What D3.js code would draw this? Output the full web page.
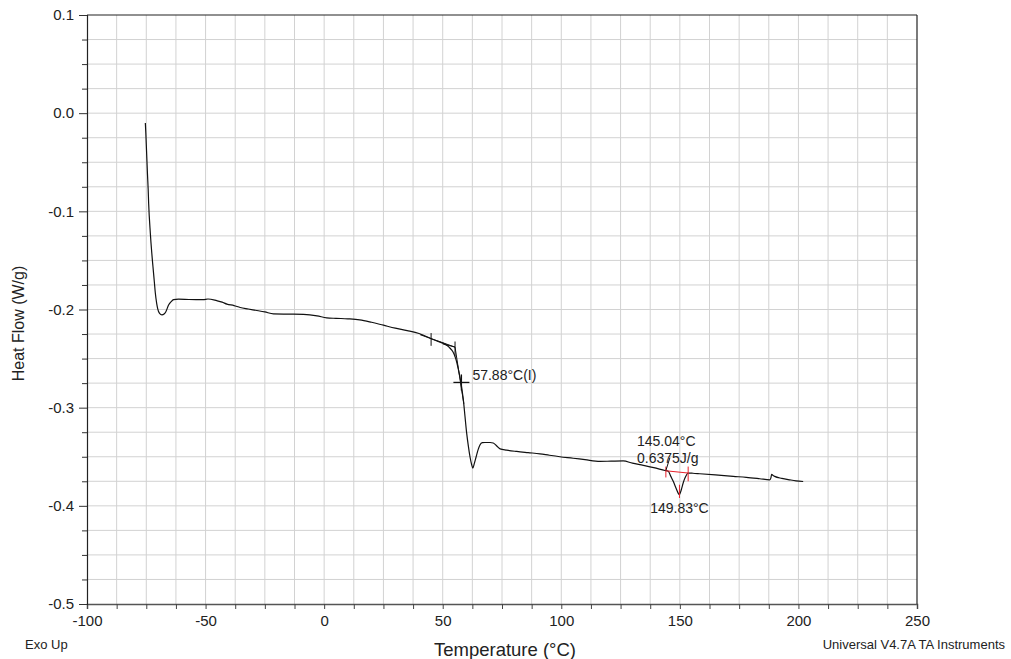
<!DOCTYPE html>
<html>
<head>
<meta charset="utf-8">
<script src="https://cdn.jsdelivr.net/npm/d3@7/dist/d3.min.js"></script>
<style>
  html, body { margin: 0; padding: 0; background: #fff; }
  svg { display: block; font-family: "Liberation Sans", Arial, sans-serif; }
</style>
</head>
<body>
<svg id="chart" width="1011" height="659"></svg>
<script>
// ---- Data ----
const temperature = [
  -75.4, -75.2, -74.9, -74.5, -74.2, -74.0, -73.3, -72.7, -72.2, -71.6, -71.2, -70.6, -70.2, -69.4, -68.4,
  -67.5, -66.8, -65.6, -64.5, -63.5, -61.4, -57, -51, -49, -45.3, -43, -41, -38, -35.4, -32, -28.4, -25,
  -21.4, -15, -8.7, -3, 1.1, 5, 10, 15, 20, 25, 30, 35, 40, 45.4, 48, 50.3, 52, 53.1, 54.3, 55.2, 56, 56.6,
  57.2, 57.7, 58.2, 58.7, 59.4, 60.1, 60.8, 61.5, 62.1, 62.7, 63.3, 64.1, 64.9, 65.7, 66.7, 67.8, 70, 71.3,
  72.8, 74.2, 77, 81.2, 86, 91, 95, 99.4, 105, 110, 116.3, 121, 126.1, 130, 134.6, 139, 143.7, 145.1, 146.2,
  147.2, 148.4, 149.4, 149.8, 150.3, 150.8, 151.5, 152.1, 153.5, 155.5, 158.4, 165, 172.5, 178, 183.7, 187.9,
  188.4, 188.7, 189.3, 190, 193, 196.4, 199, 202
];
const heatFlow = [
  -0.010, -0.020, -0.038, -0.062, -0.078, -0.092, -0.122, -0.142, -0.156, -0.172, -0.183, -0.194, -0.199, -0.204, -0.2054,
  -0.2045, -0.2025, -0.1955, -0.192, -0.190, -0.1894, -0.1898, -0.190, -0.1893, -0.191, -0.1925, -0.1945, -0.196, -0.198, -0.1995, -0.201, -0.2025,
  -0.2044, -0.2047, -0.2050, -0.2065, -0.2085, -0.209, -0.2095, -0.2105, -0.213, -0.216, -0.219, -0.2215, -0.2245, -0.230, -0.2325, -0.2345, -0.237, -0.2395, -0.243, -0.248, -0.2545, -0.261,
  -0.268, -0.275, -0.283, -0.292, -0.309, -0.326, -0.339, -0.350, -0.357, -0.3615, -0.357, -0.350, -0.343, -0.338, -0.3357, -0.3355, -0.3355, -0.336,
  -0.339, -0.342, -0.3433, -0.3446, -0.3458, -0.347, -0.3485, -0.350, -0.3515, -0.353, -0.3547, -0.3545, -0.3543, -0.3565, -0.3587, -0.361, -0.364, -0.3648, -0.370,
  -0.375, -0.382, -0.3875, -0.3887, -0.386, -0.382, -0.376, -0.372, -0.3666, -0.3668, -0.3673, -0.3685, -0.370, -0.371, -0.3724, -0.3735,
  -0.3715, -0.368, -0.369, -0.370, -0.372, -0.3735, -0.3745, -0.3752
];
const xTickValues = [-100, -50, 0, 50, 100, 150, 200, 250];
const yTickValues = [0.1, 0.0, -0.1, -0.2, -0.3, -0.4, -0.5];
const xMinorStep = 12.5;
const yMinorStep = 0.025;

// Glass transition annotation (temperature, heat flow)
const tgOnsetTicks = [[45.1, -0.2240, -0.2370], [55.2, -0.2326, -0.2478]];
const tgBaselineTangent = [[40.5, -0.2257], [55.2, -0.2383]];
const tgChord = [[50.0, -0.2350], [55.2, -0.2383]];
const tgSteepTangent = [[55.2, -0.2383], [58.9, -0.2960]];
const tgPoint = [57.88, -0.2743];
const tgLabel = "57.88°C(I)";

// Melting peak annotation
const peakOnset = [144.1, -0.3640];
const peakLeaderTop = [145.8, -0.3510];
const peakBaseline = [[144.1, -0.3643], [153.5, -0.3666]];
const peakRedTicks = [[144.1, -0.3600, -0.3711], [153.5, -0.3600, -0.3750], [149.83, -0.3785, -0.3920]];
const peakOnsetLabel = "145.04°C";
const peakEnthalpyLabel = "0.6375J/g";
const peakTempLabel = "149.83°C";

// ---- Drawing ----
const svg = d3.select("#chart");
const pLeft = 87, pRight = 917, pTop = 15, pBottom = 604;
const x = d3.scaleLinear().domain([-100, 250]).range([pLeft, pRight]);
const y = d3.scaleLinear().domain([-0.5, 0.1]).range([pBottom, pTop]);
const textColor = "#222";

// grid
const xGrid = d3.range(-100 + xMinorStep, 250 - 1e-9, xMinorStep);
const yGrid = d3.range(-0.5 + yMinorStep, 0.1 - 1e-9, yMinorStep);
svg.append("g").selectAll("line").data(xGrid).join("line")
  .attr("x1", d => x(d)).attr("x2", d => x(d)).attr("y1", pTop).attr("y2", pBottom)
  .attr("stroke", "#d2d2d2").attr("stroke-width", 1);
svg.append("g").selectAll("line").data(yGrid).join("line")
  .attr("x1", pLeft).attr("x2", pRight).attr("y1", d => y(d)).attr("y2", d => y(d))
  .attr("stroke", "#d2d2d2").attr("stroke-width", 1);

// axes
const xAll = d3.range(-100, 250 + 1e-9, xMinorStep);
const yAll = d3.range(-0.5, 0.1 + 1e-9, yMinorStep);
const xAxis = d3.axisBottom(x).tickValues(xAll).tickSize(5);
const gx = svg.append("g").attr("transform", `translate(0,${pBottom})`).call(xAxis);
gx.select(".domain").attr("stroke", "#555").attr("stroke-width", 1.5);
gx.selectAll(".tick line").attr("stroke", "#444");
gx.selectAll(".tick text").attr("font-size", 15).attr("fill", textColor).attr("dy", "0.9em")
  .text(d => { const v = xTickValues.find(v => Math.abs(v - d) < 1e-6); return v === undefined ? "" : String(v); });

const isMajorY = d => yTickValues.some(v => Math.abs(v - d) < 1e-6);
const yAxis = d3.axisLeft(y).tickValues(yAll).tickSize(5);
const gy = svg.append("g").attr("transform", `translate(${pLeft},0)`).call(yAxis);
gy.select(".domain").attr("stroke", "#222").attr("stroke-width", 1.2);
gy.selectAll(".tick line").attr("stroke", "#333").attr("x2", d => isMajorY(d) ? -8 : -5);
gy.selectAll(".tick text").attr("font-size", 15).attr("fill", textColor).attr("x", -13)
  .text(d => { const v = yTickValues.find(v => Math.abs(v - d) < 1e-6); return v === undefined ? "" : v.toFixed(1); });

// frame top/right
svg.append("line").attr("x1", pLeft).attr("x2", pRight).attr("y1", pTop).attr("y2", pTop).attr("stroke", "#222").attr("stroke-width", 1.2);
svg.append("line").attr("x1", pRight).attr("x2", pRight).attr("y1", pTop).attr("y2", pBottom).attr("stroke", "#222").attr("stroke-width", 1.2);

// curve
const pts = temperature.map((t, i) => [t, heatFlow[i]]);
const line = d3.line().x(d => x(d[0])).y(d => y(d[1])).curve(d3.curveMonotoneX);
svg.append("path").datum(pts).attr("d", line).attr("fill", "none").attr("stroke", "#111").attr("stroke-width", 1.2);

// Tg annotations
const plain = d3.line().x(d => x(d[0])).y(d => y(d[1]));
const ann = svg.append("g").attr("stroke", "#111").attr("stroke-width", 1).attr("fill", "none");
tgOnsetTicks.forEach(d => ann.append("line").attr("x1", x(d[0])).attr("x2", x(d[0])).attr("y1", y(d[1])).attr("y2", y(d[2])));
ann.append("path").attr("d", plain(tgBaselineTangent));
ann.append("path").attr("d", plain(tgChord));
ann.append("path").attr("d", plain(tgSteepTangent));
ann.append("line").attr("x1", x(tgPoint[0]) - 8).attr("x2", x(tgPoint[0]) + 8).attr("y1", y(tgPoint[1])).attr("y2", y(tgPoint[1])).attr("stroke-width", 1.3);
ann.append("line").attr("x1", x(tgPoint[0])).attr("x2", x(tgPoint[0])).attr("y1", y(tgPoint[1]) - 8).attr("y2", y(tgPoint[1]) + 8).attr("stroke-width", 1.3);
svg.append("text").attr("x", x(tgPoint[0]) + 11).attr("y", y(tgPoint[1]) - 2).attr("font-size", 14).attr("fill", textColor).text(tgLabel);

// peak annotations
const red = svg.append("g").attr("stroke", "#e8202a").attr("stroke-width", 1).attr("fill", "none");
red.append("path").attr("d", plain(peakBaseline));
peakRedTicks.forEach(d => red.append("line").attr("x1", x(d[0])).attr("x2", x(d[0])).attr("y1", y(d[1])).attr("y2", y(d[2])));
svg.append("line").attr("x1", x(peakLeaderTop[0])).attr("y1", y(peakLeaderTop[1])).attr("x2", x(peakOnset[0])).attr("y2", y(peakOnset[1])).attr("stroke", "#111").attr("stroke-width", 1);
svg.append("text").attr("x", 637).attr("y", 446).attr("font-size", 14).attr("fill", textColor).text(peakOnsetLabel);
svg.append("text").attr("x", 637).attr("y", 463).attr("font-size", 14).attr("fill", textColor).text(peakEnthalpyLabel);
svg.append("text").attr("x", x(149.83)).attr("y", 513).attr("text-anchor", "middle").attr("font-size", 14).attr("fill", textColor).text(peakTempLabel);

// axis titles & footers
svg.append("text").attr("x", 505).attr("y", 656).attr("text-anchor", "middle").attr("font-size", 18.5).attr("fill", textColor).text("Temperature (°C)");
svg.append("text").attr("transform", `translate(24,${(pTop + pBottom) / 2 + 14}) rotate(-90)`).attr("text-anchor", "middle").attr("font-size", 16).attr("fill", textColor).text("Heat Flow (W/g)");
svg.append("text").attr("x", 25).attr("y", 649).attr("font-size", 13).attr("fill", textColor).text("Exo Up");
svg.append("text").attr("x", 1005).attr("y", 649).attr("text-anchor", "end").attr("font-size", 13).attr("fill", textColor).text("Universal V4.7A TA Instruments");
</script>
</body>
</html>
